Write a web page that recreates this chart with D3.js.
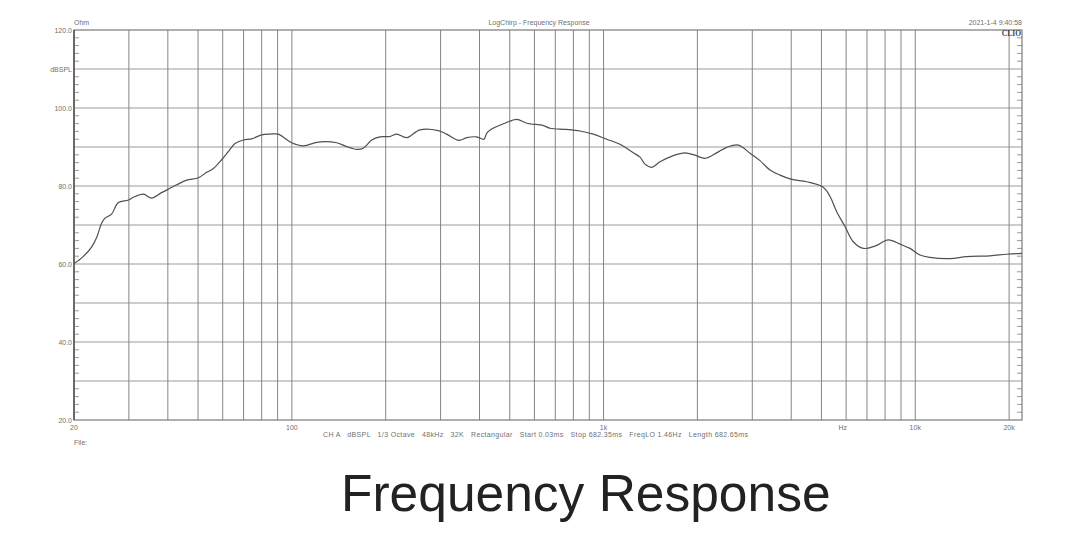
<!DOCTYPE html>
<html>
<head>
<meta charset="utf-8">
<script src="https://cdn.jsdelivr.net/npm/d3@7"></script>
<style>
  html, body { margin: 0; padding: 0; background: #fff; }
  svg { display: block; }
  text { font-family: "Liberation Sans", Arial, sans-serif; }
</style>
</head>
<body>
<svg id="chart" width="1074" height="535"></svg>
<script>
// ---- data ----
const freqs = [20, 21.4, 22.8, 23.7, 24.5, 25.1, 26.4, 27.7, 29.9, 31.0, 33.4, 35.5, 38.2, 40.6, 42.7, 46.0, 50.1, 53.3, 56.0, 59.6, 62.5, 65.7, 69.9, 74.3, 80.0, 85.1, 90.5, 95.1, 99.9, 108.8, 120.1, 127.7, 139.3, 149.9, 161.5, 169.5, 180.4, 191.7, 206.5, 217, 233.6, 257.6, 294.9, 313.8, 343.8, 363.9, 391.7, 413.4, 421.7, 437.5, 482.6, 526.6, 567, 640.8, 673.3, 761.5, 840.2, 926.7, 1023, 1129, 1246, 1309, 1358, 1427, 1517, 1674, 1826, 1965, 2115, 2306, 2483, 2705, 2951, 3176, 3419, 3682, 4014, 4484, 5069, 5328, 5598, 5951, 6326, 6813, 7428, 8195, 8934, 9621, 10357, 11150, 12930, 14623, 17369, 19650, 22000];
const splValues = [60.1, 61.9, 64.4, 67.0, 70.4, 71.7, 72.8, 75.7, 76.4, 77.1, 77.9, 76.9, 78.3, 79.4, 80.3, 81.5, 82.1, 83.5, 84.5, 86.8, 88.8, 90.9, 91.8, 92.1, 93.1, 93.3, 93.3, 92.2, 91.1, 90.3, 91.2, 91.4, 91.1, 90.1, 89.4, 89.7, 91.8, 92.6, 92.7, 93.3, 92.4, 94.4, 94.2, 93.3, 91.7, 92.4, 92.6, 92.0, 93.5, 94.6, 96.1, 97.1, 96.1, 95.5, 94.8, 94.5, 94.1, 93.3, 92.0, 90.7, 88.5, 87.4, 85.6, 84.8, 86.2, 87.8, 88.5, 87.9, 87.1, 88.5, 89.9, 90.5, 88.4, 86.5, 84.1, 82.8, 81.7, 81.1, 79.7, 77.3, 73.4, 69.6, 65.7, 64.0, 64.6, 66.2, 65.1, 64.0, 62.3, 61.7, 61.4, 61.9, 62.1, 62.5, 62.7];

const yGridValues = [30, 40, 50, 60, 70, 80, 90, 100, 110];
const yTickLabels = [
  {v: 120, t: "120.0"}, {v: 110, t: "dBSPL"}, {v: 100, t: "100.0"},
  {v: 80, t: "80.0"}, {v: 60, t: "60.0"}, {v: 40, t: "40.0"}, {v: 20, t: "20.0"}
];
const xGridValues = [30, 40, 50, 60, 70, 80, 90, 100, 200, 300, 400, 500, 600, 700, 800, 900,
  1000, 2000, 3000, 4000, 5000, 6000, 7000, 8000, 9000, 10000, 20000];
const xTickLabels = [
  {v: 20, t: "20"}, {v: 100, t: "100"}, {v: 1000, t: "1k"}, {v: 5850, t: "Hz"},
  {v: 10000, t: "10k"}, {v: 20000, t: "20k"}
];
const headerLeft = "Ohm";
const headerTitle = "LogChirp - Frequency Response";
const headerDate = "2021-1-4 9:40:58";
const brand = "CLIO";
const footerInfo = "CH A   dBSPL   1/3 Octave   48kHz   32K   Rectangular   Start 0.03ms   Stop 682.35ms   FreqLO 1.46Hz   Length 682.65ms";
const fileLabel = "File:";
const bigTitle = "Frequency Response";

// ---- layout ----
const L = 74, R = 1022, T = 30, B = 420;
const svg = d3.select("#chart");
svg.append("rect").attr("width", 1074).attr("height", 535).attr("fill", "#fff");

const x = d3.scaleLog().domain([20, 22000]).range([L, R]);
const y = d3.scaleLinear().domain([20, 120]).range([B, T]);

const small = "#707070";

// horizontal grid
svg.append("g").selectAll("line").data(yGridValues).join("line")
  .attr("x1", L).attr("x2", R)
  .attr("y1", d => y(d)).attr("y2", d => y(d))
  .attr("stroke", "#cdcdcd").attr("stroke-width", 2);

// vertical grid
svg.append("g").selectAll("line").data(xGridValues).join("line")
  .attr("x1", d => x(d)).attr("x2", d => x(d))
  .attr("y1", T).attr("y2", B)
  .attr("stroke", "#858585").attr("stroke-width", 1);

// minor ticks (every 2 dB), left and right
const minor = d3.range(22, 120, 2).filter(v => v % 10 !== 0);
svg.append("g").selectAll("line").data(minor).join("line")
  .attr("x1", L).attr("x2", L + 5)
  .attr("y1", d => y(d)).attr("y2", d => y(d))
  .attr("stroke", "#999").attr("stroke-width", 1);
svg.append("g").selectAll("line").data(minor).join("line")
  .attr("x1", R - 5).attr("x2", R)
  .attr("y1", d => y(d)).attr("y2", d => y(d))
  .attr("stroke", "#999").attr("stroke-width", 1);

// frame
svg.append("rect").attr("x", L).attr("y", T).attr("width", R - L).attr("height", B - T)
  .attr("fill", "none").attr("stroke", "#7a7a7a").attr("stroke-width", 1.2);
svg.append("line").attr("x1", L).attr("x2", L).attr("y1", T).attr("y2", B)
  .attr("stroke", "#6a6a6a").attr("stroke-width", 2);

// curve
const pts = freqs.map((f, i) => [f, splValues[i]]);
const line = d3.line().x(d => x(d[0])).y(d => y(d[1])).curve(d3.curveCatmullRom.alpha(0.5));
svg.append("path").attr("d", line(pts)).attr("fill", "none")
  .attr("stroke", "#505050").attr("stroke-width", 1.2);

// y labels
svg.append("g").selectAll("text").data(yTickLabels).join("text")
  .attr("x", L - 2).attr("y", d => y(d.v) + 2.5)
  .attr("text-anchor", "end").attr("font-size", 7).attr("fill", small)
  .text(d => d.t);

// x labels
svg.append("g").selectAll("text").data(xTickLabels).join("text")
  .attr("x", d => x(d.v)).attr("y", B + 10)
  .attr("text-anchor", "middle").attr("font-size", 7).attr("fill", small)
  .text(d => d.t);

// header
svg.append("text").attr("x", L).attr("y", 24.5).attr("font-size", 7).attr("fill", small).text(headerLeft);
svg.append("text").attr("x", 539).attr("y", 24.5).attr("text-anchor", "middle")
  .attr("font-size", 7).attr("fill", small).text(headerTitle);
svg.append("text").attr("x", R).attr("y", 24.5).attr("text-anchor", "end")
  .attr("font-size", 7).attr("fill", small).text(headerDate);
svg.append("text").attr("x", R - 1).attr("y", 36).attr("text-anchor", "end")
  .attr("font-size", 7.5).attr("font-weight", "bold").attr("fill", "#444")
  .style("font-family", "'Liberation Serif', serif").text(brand);

// footer
svg.append("text").attr("x", 323).attr("y", 437).attr("font-size", 7).attr("fill", small)
  .attr("textLength", 425).attr("lengthAdjust", "spacing")
  .style("white-space", "pre").text(footerInfo);
svg.append("text").attr("x", L).attr("y", 444.5).attr("font-size", 7).attr("fill", small).text(fileLabel);

// big title
svg.append("text").attr("x", 341).attr("y", 511).attr("text-anchor", "start")
  .attr("font-size", 51.5).attr("fill", "#222").text(bigTitle);
</script>
</body>
</html>
